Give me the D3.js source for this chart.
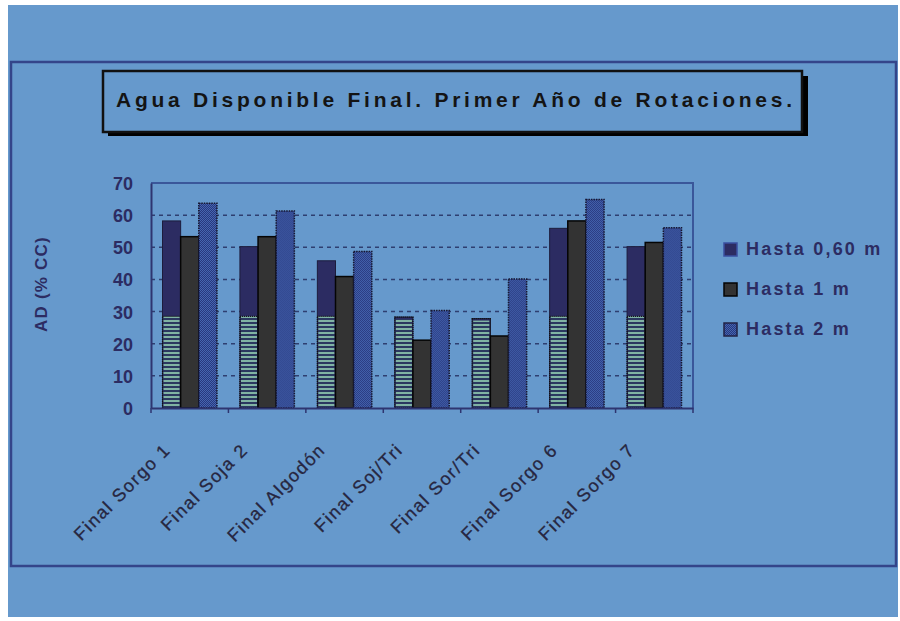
<!DOCTYPE html>
<html>
<head>
<meta charset="utf-8">
<script src="https://cdn.jsdelivr.net/npm/d3@7"></script>
<style>
  body { margin: 0; background: #ffffff; }
  text { font-family: "Liberation Sans", Arial, sans-serif; }
</style>
</head>
<body>
<div id="chart"></div>
<script>
// data
const categories = ["Final Sorgo 1", "Final Soja 2", "Final Algodón", "Final Soj/Tri",
                    "Final Sor/Tri", "Final Sorgo 6", "Final Sorgo 7"];
const seriesNames = ["Hasta 0,60 m", "Hasta 1 m", "Hasta 2 m"];
const hasta060 = [58.2, 50.2, 45.8, 28.3, 27.8, 55.9, 50.2];
const hasta1   = [53.3, 53.3, 40.9, 21.1, 22.4, 58.2, 51.5];
const hasta2   = [63.7, 61.3, 48.7, 30.3, 40.1, 64.9, 56.1];
const yTicks = [0, 10, 20, 30, 40, 50, 60, 70];
const stripeLevel = 28.5; // striped lower part of first series
const title = "Agua Disponible Final. Primer Año de Rotaciones.";
const yTitle = "AD (% CC)";

const width = 900, height = 621;
const bg = "#6699cc";
const navy = "#2c2c62";

const svg = d3.select("#chart").append("svg")
    .attr("width", width)
    .attr("height", height);

// patterns
const defs = svg.append("defs");
const stripes = defs.append("pattern")
    .attr("id", "stripes")
    .attr("patternUnits", "userSpaceOnUse")
    .attr("width", 4).attr("height", 4);
stripes.append("rect").attr("width", 4).attr("height", 4).attr("fill", "#2b3860");
stripes.append("rect").attr("width", 4).attr("height", 2).attr("fill", "#80b3a3");

const hatch = defs.append("pattern")
    .attr("id", "hatch")
    .attr("patternUnits", "userSpaceOnUse")
    .attr("width", 2).attr("height", 2);
hatch.append("rect").attr("width", 2).attr("height", 2).attr("fill", "#4565b0");
hatch.append("rect").attr("width", 1).attr("height", 1).attr("fill", "#28387e");
hatch.append("rect").attr("x", 1).attr("y", 1).attr("width", 1).attr("height", 1).attr("fill", "#28387e");

// background and outer frame
svg.append("rect")
    .attr("x", 8).attr("y", 5)
    .attr("width", 890).attr("height", 612)
    .attr("fill", bg);

svg.append("rect")
    .attr("x", 11).attr("y", 62)
    .attr("width", 885).attr("height", 504)
    .attr("fill", "none")
    .attr("stroke", "#34458a")
    .attr("stroke-width", 2.5);

// title box with shadow
svg.append("rect")
    .attr("x", 108).attr("y", 76)
    .attr("width", 700).attr("height", 60)
    .attr("fill", "#000");
svg.append("rect")
    .attr("x", 103).attr("y", 71)
    .attr("width", 699).attr("height", 61)
    .attr("fill", bg)
    .attr("stroke", "#111", )
    .attr("stroke-width", 2.5);
svg.append("text")
    .attr("x", 116).attr("y", 107)
    .attr("textLength", 676)
    .attr("lengthAdjust", "spacing")
    .style("font-size", "21px")
    .style("font-weight", "bold")
    .attr("fill", "#141414")
    .text(title);

// scales
const x0 = d3.scaleBand()
    .domain(categories)
    .range([151, 693])
    .paddingInner(0)
    .paddingOuter(0);

const x1 = d3.scaleBand()
    .domain(seriesNames)
    .range([11.5, x0.bandwidth() - 11.5])
    .padding(0);

const y = d3.scaleLinear()
    .domain([0, 70])
    .range([408, 183]);

// gridlines
svg.append("g")
    .selectAll("line")
    .data(yTicks.filter(d => d > 0 && d < 70))
    .join("line")
    .attr("x1", x0.range()[0]).attr("x2", x0.range()[1])
    .attr("y1", d => y(d)).attr("y2", d => y(d))
    .attr("stroke", "#2e3f70")
    .attr("stroke-width", 1.5)
    .attr("stroke-dasharray", "4,4");

// plot frame top and right
svg.append("path")
    .attr("d", `M${x0.range()[0]},${y(70)}H${x0.range()[1]}V${y(0)}`)
    .attr("fill", "none")
    .attr("stroke", "#3a579a")
    .attr("stroke-width", 2);

// bars
const rows = categories.map((c, i) => ({
    cat: c,
    vals: [hasta060[i], hasta1[i], hasta2[i]]
}));

const groups = svg.append("g")
    .selectAll("g")
    .data(rows)
    .join("g")
    .attr("transform", d => `translate(${x0(d.cat)},0)`);

// series 1: navy top, striped bottom
groups.append("rect")
    .attr("x", x1(seriesNames[0]))
    .attr("y", d => y(d.vals[0]))
    .attr("width", x1.bandwidth())
    .attr("height", d => y(0) - y(d.vals[0]))
    .attr("fill", navy)
    .attr("stroke", "#1c1c3c")
    .attr("stroke-width", 1);
groups.append("rect")
    .attr("x", x1(seriesNames[0]) + 1)
    .attr("y", d => y(Math.min(d.vals[0] - 0.6, stripeLevel)))
    .attr("width", x1.bandwidth() - 2)
    .attr("height", d => y(0) - y(Math.min(d.vals[0] - 0.6, stripeLevel)))
    .attr("fill", "url(#stripes)");
groups.append("rect")
    .attr("x", x1(seriesNames[0]))
    .attr("y", d => y(Math.min(d.vals[0], stripeLevel)))
    .attr("width", x1.bandwidth())
    .attr("height", d => y(0) - y(Math.min(d.vals[0], stripeLevel)))
    .attr("fill", "none")
    .attr("stroke", "#111")
    .attr("stroke-width", 1.2)
    .attr("stroke-dasharray", "1,1");

// series 2: dark grey
groups.append("rect")
    .attr("x", x1(seriesNames[1]))
    .attr("y", d => y(d.vals[1]))
    .attr("width", x1.bandwidth())
    .attr("height", d => y(0) - y(d.vals[1]))
    .attr("fill", "#333333")
    .attr("stroke", "#050505")
    .attr("stroke-width", 1.5);

// series 3: blue hatch
groups.append("rect")
    .attr("x", x1(seriesNames[2]))
    .attr("y", d => y(d.vals[2]))
    .attr("width", x1.bandwidth())
    .attr("height", d => y(0) - y(d.vals[2]))
    .attr("fill", "url(#hatch)")
    .attr("stroke", "#161630")
    .attr("stroke-width", 1.5)
    .attr("stroke-dasharray", "1.5,1");

// y axis
const yAxis = svg.append("g")
    .attr("transform", `translate(${x0.range()[0]},0)`)
    .call(d3.axisLeft(y).tickValues(yTicks).tickSize(0).tickPadding(18).tickFormat(d3.format("d")));
yAxis.select(".domain").attr("stroke", "#2e3570").attr("stroke-width", 2);
yAxis.selectAll("text")
    .attr("dy", "0.36em")
    .style("font-size", "18px")
    .style("font-weight", "bold")
    .attr("fill", navy);

// x axis
const xAxis = svg.append("g")
    .attr("transform", `translate(0,${y(0)})`)
    .call(d3.axisBottom(x0).tickSize(0).tickFormat(""));
xAxis.select(".domain").attr("stroke", "#2e3570").attr("stroke-width", 2);

// ticks between categories
svg.append("g")
    .selectAll("line")
    .data(categories.concat(["end"]))
    .join("line")
    .attr("x1", (d, i) => x0.range()[0] + i * x0.step())
    .attr("x2", (d, i) => x0.range()[0] + i * x0.step())
    .attr("y1", y(0))
    .attr("y2", y(0) + 5)
    .attr("stroke", "#2e3570")
    .attr("stroke-width", 1.5);

// rotated category labels
svg.append("g")
    .selectAll("text")
    .data(categories)
    .join("text")
    .attr("transform", d => `translate(${x0(d) + x0.bandwidth() / 2 - 18},${y(0) + 43}) rotate(-45)`)
    .attr("text-anchor", "end")
    .style("font-size", "18px")
    .style("letter-spacing", "1.6px")
    .style("stroke", "#262640")
    .style("stroke-width", "0.3px")
    .attr("fill", "#262640")
    .text(d => d);

// y title
svg.append("text")
    .attr("transform", "translate(47,284) rotate(-90)")
    .attr("text-anchor", "middle")
    .style("font-size", "17px")
    .style("font-weight", "bold")
    .style("letter-spacing", "1.2px")
    .attr("fill", navy)
    .text(yTitle);

// legend
const legendFills = [navy, "#333333", "url(#hatch)"];
const legendStrokes = ["#3a4fa0", "#050505", "#222244"];
const legend = svg.append("g")
    .selectAll("g")
    .data(seriesNames)
    .join("g")
    .attr("transform", (d, i) => `translate(724,${243 + i * 40})`);
legend.append("rect")
    .attr("width", 13).attr("height", 13)
    .attr("fill", (d, i) => legendFills[i])
    .attr("stroke", (d, i) => legendStrokes[i])
    .attr("stroke-width", 1.5);
legend.append("text")
    .attr("x", 22).attr("y", 12)
    .style("font-size", "18px")
    .style("font-weight", "bold")
    .style("letter-spacing", "2.2px")
    .attr("fill", navy)
    .text(d => d);
</script>
</body>
</html>
